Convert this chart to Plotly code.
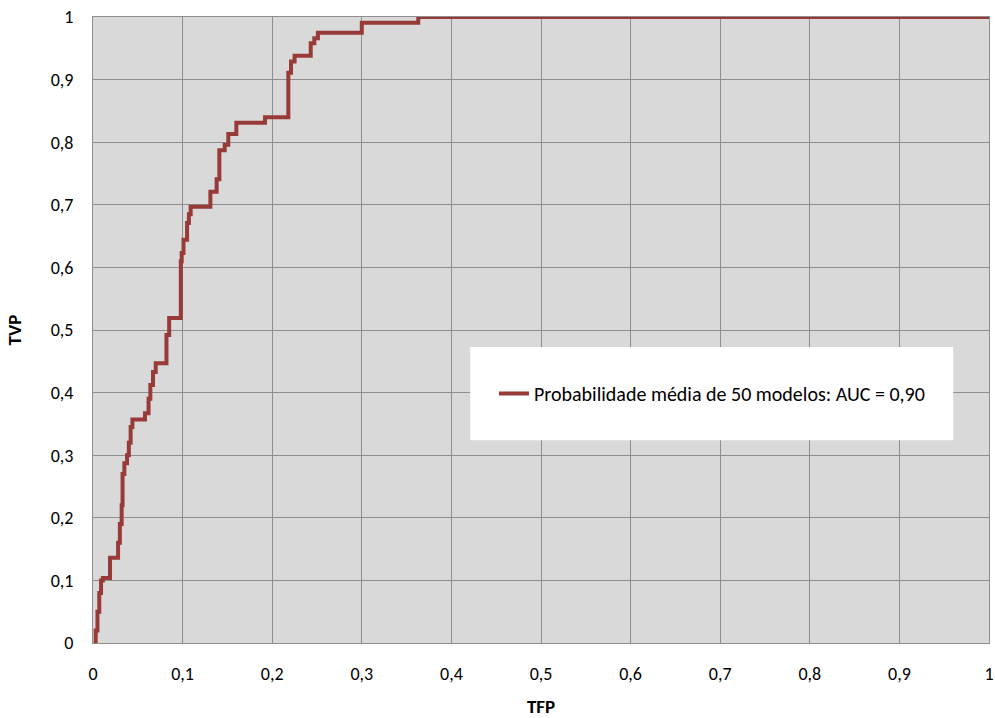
import plotly.graph_objects as go

# ROC curve: false-positive rate (TFP) and true-positive rate (TVP) at each step
fpr = [0.002, 0.003, 0.005, 0.007, 0.009, 0.011, 0.019, 0.028, 0.030, 0.032,
       0.033, 0.035, 0.038, 0.040, 0.042, 0.044, 0.058, 0.062, 0.064, 0.067,
       0.070, 0.082, 0.085, 0.098, 0.099, 0.101, 0.105, 0.107, 0.109, 0.131,
       0.138, 0.141, 0.147, 0.151, 0.160, 0.192, 0.218, 0.221, 0.225, 0.243,
       0.247, 0.251, 0.300, 0.363, 1.0]
tpr = [0.0, 0.02, 0.05, 0.08, 0.10, 0.104, 0.136, 0.16, 0.19, 0.22,
       0.27, 0.287, 0.30, 0.32, 0.345, 0.357, 0.367, 0.39, 0.412, 0.433,
       0.447, 0.492, 0.519, 0.61, 0.623, 0.644, 0.671, 0.685, 0.697, 0.721,
       0.741, 0.787, 0.796, 0.813, 0.831, 0.840, 0.911, 0.929, 0.938, 0.958,
       0.966, 0.975, 0.991, 1.0, 1.0]

tick_vals = [0, 0.1, 0.2, 0.3, 0.4, 0.5, 0.6, 0.7, 0.8, 0.9, 1]
series_name = "Probabilidade média de 50 modelos: AUC = 0,90"

FONT = "Carlito, Lato, 'Liberation Sans', sans-serif"
LINE_COLOR = "#983a37"
GRID_COLOR = "#8e8e8e"

fig = go.Figure()
fig.add_trace(go.Scatter(
    x=fpr, y=tpr, mode="lines", name=series_name,
    line=dict(color=LINE_COLOR, width=4, shape="hv"),
    showlegend=True,
))

axis_common = dict(
    range=[0, 1], tickvals=tick_vals, showgrid=True, gridcolor=GRID_COLOR,
    gridwidth=1, zeroline=False, showline=True, linecolor=GRID_COLOR,
    mirror=True, ticks="", tickfont=dict(family=FONT, size=18, color="#000"),
    fixedrange=True, automargin=False,
)

fig.update_layout(
    width=995, height=718,
    margin=dict(l=93, r=6, t=17, b=75),
    paper_bgcolor="white", plot_bgcolor="#d9d9d9",
    separators=",.",
    font=dict(family=FONT, color="#000"),
    xaxis=dict(**axis_common, ticklabelstandoff=14,
               title=dict(text="<b>TFP</b>", font=dict(family=FONT, size=19),
                          standoff=22)),
    yaxis=dict(**axis_common, ticklabelstandoff=15,
               title=dict(text="<b>TVP</b>", font=dict(family=FONT, size=19),
                          standoff=24)),
    legend=dict(x=0.4475, y=0.3986, xanchor="left", yanchor="middle",
                bgcolor="rgba(0,0,0,0)", borderwidth=0,
                font=dict(family=FONT, size=20, color="#000"),
                itemwidth=30),
    shapes=[dict(type="rect", xref="x", yref="y", x0=0.421, x1=0.960,
                 y0=0.324, y1=0.473, fillcolor="white", line=dict(width=0),
                 layer="above")],
)

fig.write_html("out.html")
